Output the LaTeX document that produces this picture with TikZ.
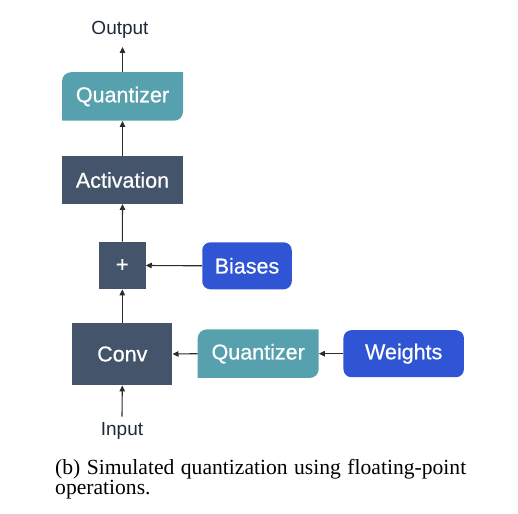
\documentclass[tikz,border=0pt]{standalone}
\usepackage{fontspec}
\setmainfont{Liberation Serif}
\newfontfamily\lsans{Liberation Sans}
\newfontfamily\lsansm{Liberation Sans}[FakeBold=0.6]
\usetikzlibrary{arrows.meta}
\definecolor{slate}{HTML}{44546A}
\definecolor{qteal}{HTML}{57A1AE}
\definecolor{iblue}{HTML}{2F55D4}
\definecolor{lbl}{HTML}{1E2A38}
\definecolor{arr}{HTML}{2B2B2B}
\tikzset{
  lab/.style={font=\lsansm\fontsize{21.5bp}{24bp}\selectfont, text=white, inner sep=0pt},
  darkbox/.style={lab, fill=slate},
  inbox/.style={lab, fill=iblue, rounded corners=8bp, minimum height=47bp},
  qbox/.style={lab, minimum width=121bp, minimum height=48.5bp,
    path picture={\fill[qteal] (path picture bounding box.south west)
      -- ([yshift=-9bp]path picture bounding box.north west)
      arc[start angle=180,end angle=90,radius=9bp]
      -- (path picture bounding box.north east)
      -- ([yshift=9bp]path picture bounding box.south east)
      arc[start angle=0,end angle=-90,radius=9bp]
      -- cycle;}},
  io/.style={font=\lsans\fontsize{19bp}{22bp}\selectfont, text=lbl, inner sep=0pt},
  conn/.style={draw=arr, line width=1.1bp, -{Triangle[length=6bp,width=5.5bp]}},
  captxt/.style={font=\fontsize{21.6bp}{20bp}\selectfont, text=black, inner sep=0pt, anchor=base west}
}
\begin{document}
\begin{tikzpicture}[x=1bp,y=-1bp]
\useasboundingbox (0,0) rectangle (518,514);
\node[io] (out) at (120,30) {Output};
\node[qbox] (q1) at (122.5,96.5) {Quantizer};
\node[darkbox, minimum width=121bp, minimum height=47.5bp] (act) at (122.5,180) {Activation};
\node[darkbox, minimum width=46.5bp, minimum height=47.5bp, font=\lsansm\fontsize{22bp}{24bp}\selectfont] (plus) at (122.3,265.5) {+};
\node[inbox, minimum width=89.5bp] (bias) at (247,265.8) {Biases};
\node[darkbox, minimum width=100bp, minimum height=62.5bp] (conv) at (122.3,354) {Conv};
\node[qbox] (q2) at (258.2,353.7) {Quantizer};
\node[inbox, minimum width=120.5bp] (w) at (403.7,353.7) {Weights};
\node[io] (in) at (122,430.5) {Input};
\coordinate (outtip) at (122.5,47);
\coordinate (inbase) at (122,416.5);
\draw[conn] (q1.north) -- (outtip);
\draw[conn] (act.north) -- (q1.south);
\draw[conn] (plus.north) -- (act.south);
\draw[conn] (conv.north) -- (plus.south);
\draw[conn] (inbase) -- (conv.south);
\draw[conn] (bias.west) -- (plus.east);
\draw[conn] (q2.west) -- (conv.east);
\draw[conn] (w.west) -- (q2.east);
\node[captxt] (c1) at (55,474.3) {\makebox[411bp][s]{(b) Simulated quantization using floating-point}};
\node[captxt] (c2) at (55,494) {operations.};
\end{tikzpicture}
\end{document}
